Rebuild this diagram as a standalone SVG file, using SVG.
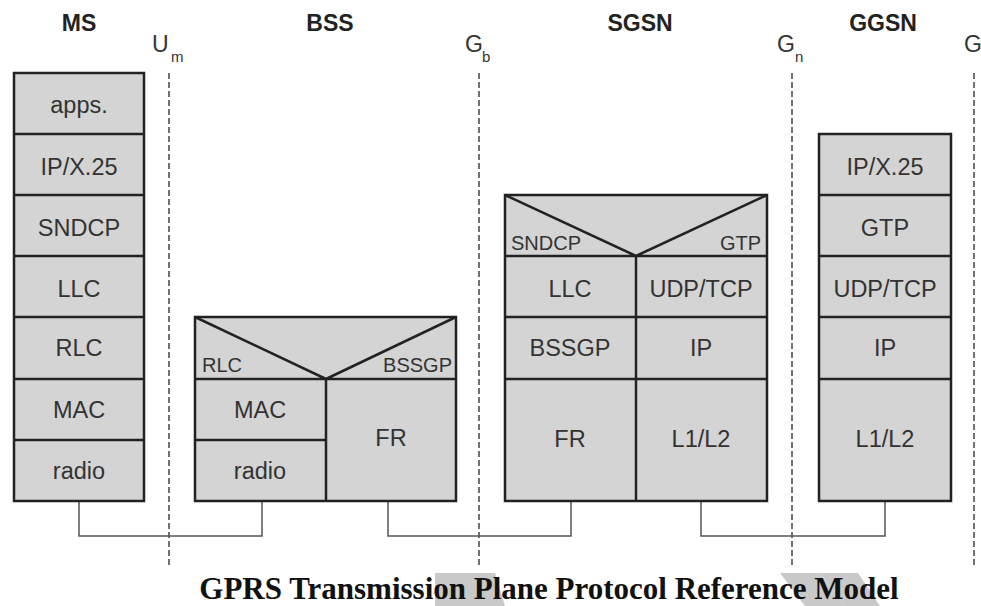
<svg xmlns="http://www.w3.org/2000/svg" width="981" height="606" viewBox="0 0 981 606">
<style>
.box{fill:#d4d4d4;stroke:#222;stroke-width:2.5}
.ln{stroke:#222;stroke-width:2.5;fill:none}
.lbl{font-family:"Liberation Sans",Arial,sans-serif;font-size:23.5px;fill:#333;text-anchor:middle}
.sm{font-family:"Liberation Sans",Arial,sans-serif;font-size:20px;fill:#333}
.hd{font-family:"Liberation Sans",Arial,sans-serif;font-size:23px;font-weight:bold;fill:#222;text-anchor:middle}
.ifc{font-family:"Liberation Sans",Arial,sans-serif;font-size:23px;fill:#333}
.sub{font-family:"Liberation Sans",Arial,sans-serif;font-size:15px;fill:#333}
.dash{stroke:#444;stroke-width:1.5;stroke-dasharray:6 3;fill:none}
.conn{stroke:#555;stroke-width:1.5;fill:none}
.wm{fill:#c9c9c9}
</style>
<rect width="981" height="606" fill="#fff"/>
<g id="watermark">
<polygon class="wm" points="435,573 495,573 505,606 435,606"/>
<polygon class="wm" points="780,573 820,573 845,606 805,606"/>
<polygon class="wm" points="820,573 858,573 880,606 845,606"/>
</g>
<g id="headers">
<text class="hd" x="79" y="31">MS</text>
<text class="hd" x="330" y="31">BSS</text>
<text class="hd" x="640" y="31">SGSN</text>
<text class="hd" x="883" y="31">GGSN</text>
</g>
<g id="interfaces">
<text class="ifc" x="152" y="52">U</text><text class="sub" x="171" y="62">m</text>
<text class="ifc" x="465" y="52">G</text><text class="sub" x="482" y="62">b</text>
<text class="ifc" x="777" y="52">G</text><text class="sub" x="795" y="62">n</text>
<text class="ifc" x="964" y="52">G</text>
<line class="dash" x1="169" y1="73" x2="169" y2="567"/>
<line class="dash" x1="479" y1="73" x2="479" y2="567"/>
<line class="dash" x1="792" y1="73" x2="792" y2="567"/>
<line class="dash" x1="974" y1="73" x2="974" y2="567"/>
</g>
<g id="connectors">
<polyline class="conn" points="79,501 79,536 262,536 262,501"/>
<polyline class="conn" points="388,501 388,536 571,536 571,501"/>
<polyline class="conn" points="701,501 701,536 885,536 885,501"/>
</g>
<g id="ms">
<rect class="box" x="14" y="73" width="130" height="428"/>
<path class="ln" d="M14,134H144M14,195H144M14,256H144M14,317H144M14,379H144M14,440H144"/>
<text class="lbl" x="79" y="113">apps.</text>
<text class="lbl" x="79" y="175">IP/X.25</text>
<text class="lbl" x="79" y="236">SNDCP</text>
<text class="lbl" x="79" y="297">LLC</text>
<text class="lbl" x="79" y="356">RLC</text>
<text class="lbl" x="79" y="418">MAC</text>
<text class="lbl" x="79" y="479">radio</text>
</g>
<g id="bss">
<rect class="box" x="195" y="317" width="261" height="184"/>
<path class="ln" d="M195,317L326,379L456,317M195,379H456M326,379V501M195,440H326"/>
<text class="sm" x="202" y="372">RLC</text>
<text class="sm" x="452" y="372" text-anchor="end">BSSGP</text>
<text class="lbl" x="260" y="418">MAC</text>
<text class="lbl" x="260" y="479">radio</text>
<text class="lbl" x="391" y="446">FR</text>
</g>
<g id="sgsn">
<rect class="box" x="505" y="195" width="262" height="306"/>
<path class="ln" d="M505,195L636,256L767,195M505,256H767M636,256V501M505,317H767M505,379H767"/>
<text class="sm" x="511" y="250">SNDCP</text>
<text class="sm" x="761" y="250" text-anchor="end">GTP</text>
<text class="lbl" x="570" y="297">LLC</text>
<text class="lbl" x="701" y="297">UDP/TCP</text>
<text class="lbl" x="570" y="356">BSSGP</text>
<text class="lbl" x="701" y="356">IP</text>
<text class="lbl" x="570" y="447">FR</text>
<text class="lbl" x="701" y="447">L1/L2</text>
</g>
<g id="ggsn">
<rect class="box" x="819" y="134" width="132" height="367"/>
<path class="ln" d="M819,195H951M819,256H951M819,317H951M819,379H951"/>
<text class="lbl" x="885" y="175">IP/X.25</text>
<text class="lbl" x="885" y="236">GTP</text>
<text class="lbl" x="885" y="297">UDP/TCP</text>
<text class="lbl" x="885" y="356">IP</text>
<text class="lbl" x="885" y="447">L1/L2</text>
</g>
<text x="549" y="599" text-anchor="middle" font-family="Liberation Serif, 'Times New Roman', serif" font-weight="bold" font-size="31" fill="#111">GPRS Transmission Plane Protocol Reference Model</text>
</svg>
